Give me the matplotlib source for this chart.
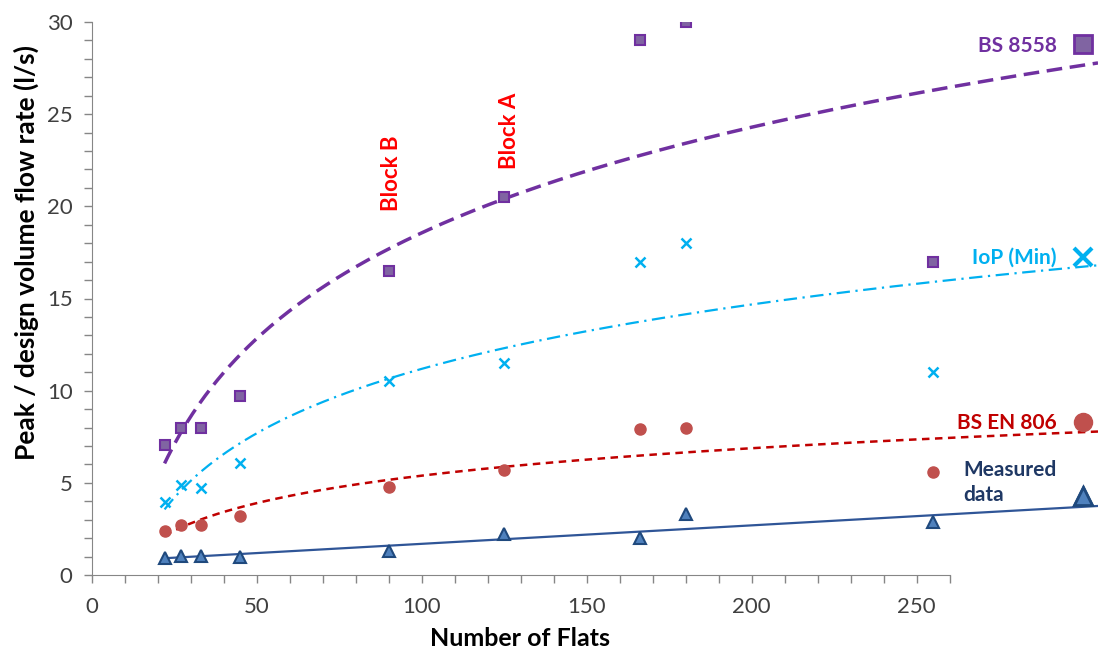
import matplotlib
matplotlib.use('Agg')
import matplotlib.pyplot as plt
from matplotlib.lines import Line2D
import numpy as np

plt.rcParams['font.family'] = ['Lato', 'DejaVu Sans']

# number of flats per building
flats = np.array([22, 27, 33, 45, 90, 125, 166, 180, 255])

# flow rates (l/s)
bs8558 = np.array([7.05, 8.0, 8.0, 9.7, 16.5, 20.5, 29.0, 30.0, 17.0])
iop_min = np.array([3.98, 4.88, 4.7, 6.1, 10.5, 11.5, 17.0, 18.0, 11.0])
bs_en806 = np.array([2.39, 2.71, 2.71, 3.2, 4.76, 5.7, 7.9, 8.0, 5.6])
measured = np.array([0.9, 1.05, 1.05, 0.95, 1.3, 2.2, 2.0, 3.3, 2.9])

series_names = ['BS 8558', 'IoP (Min)', 'BS EN 806', 'Measured\ndata']
blocks = ['Block B', 'Block A']
block_x = [90.9, 126.5]
block_y = [21.8, 24.1]

fig = plt.figure(figsize=(10.98, 6.53), dpi=100)
ax = fig.add_axes([92 / 1098, 1 - 575 / 653, 1 - 92 / 1098, (575 - 22) / 653])

xfit = np.linspace(flats.min(), 305, 300)

# BS 8558 - log trend
ax.plot(flats, bs8558, 's', ms=7.5, mfc='#8064A2', mec='#7030A0', mew=1.5, zorder=3)
c = np.polyfit(np.log(flats), bs8558, 1)
ax.plot(xfit, c[0] * np.log(xfit) + c[1], color='#7030A0', lw=2.5, dashes=(4.5, 2.2))

# IoP (Min) - log trend
ax.plot(flats, iop_min, 'x', ms=7.5, color='#00B0F0', mew=1.8, zorder=3)
c = np.polyfit(np.log(flats), iop_min, 1)
ax.plot(xfit, c[0] * np.log(xfit) + c[1], color='#00B0F0', lw=1.6, dashes=(6, 2.5, 1, 2.5))

# BS EN 806 - log trend
ax.plot(flats, bs_en806, 'o', ms=8, color='#C0504D', mec='#C0504D', zorder=3)
c = np.polyfit(np.log(flats), bs_en806, 1)
ax.plot(xfit, c[0] * np.log(xfit) + c[1], color='#C00000', lw=1.8, dashes=(3, 2.2))

# measured - linear trend
ax.plot(flats, measured, '^', ms=8, mfc='#4F81BD', mec='#1F497D', mew=1.5, zorder=3)
c = np.polyfit(flats, measured, 1)
ax.plot(xfit, c[0] * xfit + c[1], color='#2F5597', lw=1.6)

for name, x, y in zip(blocks, block_x, block_y):
    ax.text(x, y, name, rotation=90, color='#FF0000', fontsize=16, fontweight='bold',
            ha='center', va='center')


def key(handle, label, color, yy):
    leg = ax.legend([handle], [label], loc='center right', bbox_to_anchor=(0.995, yy),
                    frameon=False, markerfirst=False, handlelength=1.0, handletextpad=0.75,
                    borderpad=0, borderaxespad=0,
                    prop={'size': 15, 'weight': 'bold'})
    for t in leg.get_texts():
        t.set_color(color)
        t.set_linespacing(1.35)
    ax.add_artist(leg)


# right-hand key
key(Line2D([], [], ls='none', marker='s', ms=13, mfc='#8064A2', mec='#7030A0', mew=2),
    series_names[0], '#7030A0', 0.957)
key(Line2D([], [], ls='none', marker='x', ms=13, color='#00B0F0', mew=3),
    series_names[1], '#00B0F0', 0.573)
key(Line2D([], [], ls='none', marker='o', ms=13, color='#C0504D'),
    series_names[2], '#C00000', 0.275)
key(Line2D([], [], ls='none'), series_names[3], '#1F3864', 0.167)
key(Line2D([], [], ls='none', marker='^', ms=13, mfc='#4F81BD', mec='#1F497D', mew=2),
    '', '#1F3864', 0.141)

ax.set_xlim(0, 305)
ax.set_ylim(0, 30)
ax.set_xticks([0, 50, 100, 150, 200, 250])
ax.set_xticks(np.arange(0, 261, 10), minor=True)
ax.set_yticks(np.arange(0, 31, 5))
ax.set_yticks(np.arange(0, 31, 1), minor=True)
ax.tick_params(which='both', direction='out', length=6, width=1, color='#868686',
               labelsize=16, labelcolor='#404040')
ax.tick_params(axis='x', which='major', pad=10)
ax.tick_params(axis='y', which='major', pad=8)
ax.spines['top'].set_visible(False)
ax.spines['right'].set_visible(False)
ax.spines['left'].set_color('#868686')
ax.spines['bottom'].set_color('#868686')
ax.spines['bottom'].set_bounds(0, 260)

ax.set_xlabel('Number of Flats', fontsize=18, fontweight='bold', color='#000000')
ax.xaxis.set_label_coords(428 / 1006, -0.094)
ax.set_ylabel('Peak / design volume flow rate (l/s)', fontsize=19, fontweight='bold')
ax.yaxis.set_label_coords(-0.053, 0.584)

fig.savefig('out.png', dpi=100)
